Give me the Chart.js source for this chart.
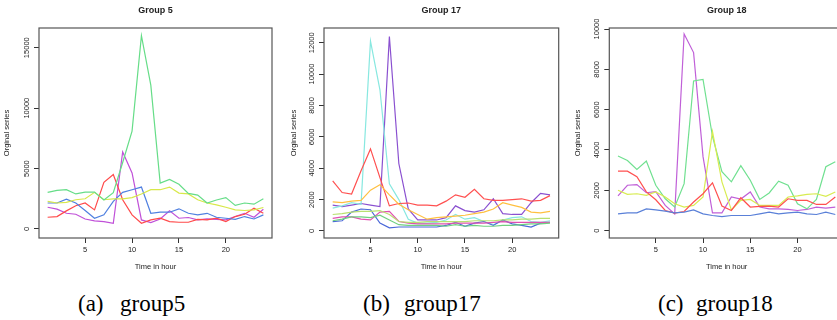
<!DOCTYPE html>
<html>
<head>
<meta charset="utf-8">
<script src="https://cdn.jsdelivr.net/npm/chart.js@4/dist/chart.umd.min.js"></script>
<style>
  html, body { margin: 0; padding: 0; background: #fff; }
  body { width: 837px; height: 320px; overflow: hidden; position: relative; }
  .panel { position: absolute; top: 0; height: 280px; }
  .cap { position: absolute; top: 291px; font-family: "Liberation Serif", "Times New Roman", serif;
         font-size: 23px; line-height: 26px; color: #000; white-space: pre; }
</style>
</head>
<body>
<div class="panel" style="left:0;width:280px"><canvas id="g5"></canvas></div>
<div class="panel" style="left:280px;width:280px"><canvas id="g17"></canvas></div>
<div class="panel" style="left:560px;width:290px"><canvas id="g18"></canvas></div>

<div class="cap" style="left:78px">(a)</div><div class="cap" style="left:120px">group5</div>
<div class="cap" style="left:363px">(b)</div><div class="cap" style="left:404px">group17</div>
<div class="cap" style="left:658px">(c)</div><div class="cap" style="left:696px">group18</div>

<script>
// hours 1..24
const hours = Array.from({ length: 24 }, (_, i) => i + 1);
const xTicks = [5, 10, 15, 20];

// ---- Group 5 ----
const g5Green  = [3030, 3200, 3250, 2900, 3050, 3050, 2400, 3000, 5500, 8100, 16000, 11900, 3800, 4100, 3700, 2950, 2800, 2150, 2400, 2600, 1950, 2150, 2050, 2500];
const g5Yellow = [2280, 2150, 2200, 2420, 2500, 3030, 2420, 2500, 2500, 2600, 2900, 3250, 3250, 3470, 2970, 2900, 2420, 2150, 2000, 1800, 1580, 1530, 1580, 1780];
const g5Blue   = [2150, 2150, 2470, 2150, 1530, 890, 1170, 2280, 3030, 3250, 3470, 1300, 1390, 1390, 1670, 1300, 1170, 1300, 970, 890, 800, 1030, 830, 1170];
const g5Red    = [970, 1030, 1500, 1920, 2150, 1580, 3860, 4500, 2420, 1170, 470, 750, 890, 610, 560, 560, 800, 750, 890, 610, 1030, 1220, 1720, 1300];
const g5Purple = [1800, 1640, 1300, 1220, 830, 670, 610, 470, 6370, 4640, 750, 530, 830, 1500, 890, 950, 750, 830, 800, 750, 1030, 1300, 970, 1640];
const g5YTicks = [0, 5000, 10000, 15000];

// ---- Group 17 ----
const g17Red    = [3200, 2450, 2350, 3840, 5230, 3400, 1600, 1750, 1780, 1650, 1650, 1600, 1900, 2300, 2150, 2650, 2050, 1950, 1950, 2000, 2050, 1900, 1950, 2250];
const g17Orange = [1850, 1800, 1900, 1950, 2600, 2950, 2300, 1700, 1350, 1050, 750, 850, 900, 950, 1000, 1100, 1200, 1400, 1800, 1650, 1500, 1200, 1150, 1250];
const g17Cyan   = [1450, 1600, 1800, 1700, 12100, 9000, 3000, 2000, 750, 500, 500, 550, 700, 1050, 750, 850, 600, 400, 700, 850, 900, 600, 550, 650];
const g17Violet = [1650, 1550, 1650, 1750, 1650, 1550, 12400, 4300, 1400, 700, 700, 700, 850, 1600, 1300, 1200, 1350, 2050, 1100, 1050, 1050, 1800, 2400, 2300];
const g17Blue   = [600, 650, 1200, 1400, 1350, 500, 200, 250, 250, 250, 250, 250, 350, 550, 300, 500, 600, 350, 700, 450, 350, 250, 500, 550];
const g17Pink   = [800, 900, 900, 750, 700, 1200, 1250, 600, 500, 450, 450, 450, 450, 500, 500, 500, 500, 550, 600, 550, 550, 550, 550, 550];
const g17Lime   = [1050, 1100, 1200, 1250, 1250, 1300, 1050, 600, 550, 550, 600, 600, 600, 600, 600, 650, 650, 650, 700, 700, 750, 750, 800, 800];
const g17Green  = [650, 750, 900, 900, 850, 1000, 700, 400, 350, 350, 350, 350, 300, 400, 300, 350, 300, 300, 350, 350, 400, 450, 450, 500];
const g17YTicks = [0, 2000, 4000, 6000, 8000, 10000, 12000];

// ---- Group 18 ----
const g18Green  = [3700, 3480, 3030, 3450, 2250, 1580, 1170, 2330, 7420, 7500, 4670, 2920, 2420, 3220, 2500, 1550, 1870, 2450, 2250, 1330, 1080, 1550, 3170, 3420];
const g18Yellow = [2000, 1800, 1830, 1750, 1920, 1670, 1330, 1170, 1250, 1670, 4920, 2420, 1030, 1500, 1550, 1250, 1250, 1250, 1670, 1720, 1800, 1830, 1700, 1920];
const g18Red    = [2950, 2950, 2670, 1920, 1530, 1000, 870, 950, 1420, 1830, 2370, 1220, 1000, 1630, 1170, 1200, 1220, 1170, 1580, 1500, 1500, 1300, 1300, 1670];
const g18Purple = [1720, 2250, 2280, 1880, 1930, 1250, 830, 9750, 8830, 3670, 880, 880, 1670, 1570, 1920, 1170, 1080, 1080, 1050, 1000, 1050, 1170, 1120, 1170];
const g18Blue   = [830, 880, 880, 1080, 1030, 970, 880, 920, 1030, 830, 750, 700, 750, 750, 750, 830, 920, 830, 880, 920, 830, 800, 920, 800];
const g18YTicks = [0, 2000, 4000, 6000, 8000, 10000];

const INK = '#333';

// frame box around the plot region, like R's box()
const boxPlugin = {
  id: 'box',
  afterDraw(chart) {
    const a = chart.chartArea, ctx = chart.ctx;
    ctx.save();
    ctx.strokeStyle = '#555';
    ctx.lineWidth = 1.2;
    ctx.strokeRect(a.left, a.top, a.right - a.left, a.bottom - a.top);
    ctx.restore();
  }
};

function line(data, color) {
  return { data: hours.map((h, i) => ({ x: h, y: data[i] })), borderColor: color,
           borderWidth: 1.2, pointRadius: 0, tension: 0, fill: false };
}

function makePanel(id, title, series, yTicks, yMin, yMax, o) {
  return new Chart(document.getElementById(id), {
    type: 'line',
    data: { datasets: series },
    options: {
      responsive: true,
      maintainAspectRatio: false,
      animation: false,
      events: [],
      layout: { padding: { left: 0, right: o.padRight, top: 0, bottom: 0 } },
      plugins: {
        legend: { display: false },
        tooltip: { enabled: false },
        title: {
          display: true, text: title, fullSize: false, color: '#222',
          font: { family: 'Liberation Sans, Arial', size: 9, weight: 'bold' },
          padding: { top: 5, bottom: 12.2 }
        }
      },
      scales: {
        x: {
          type: 'linear', min: 0.08, max: 24.92,
          afterBuildTicks: s => { s.ticks = xTicks.map(v => ({ value: v })); },
          afterFit: s => { s.height = 42; },
          grid: { drawOnChartArea: false, drawTicks: true, tickLength: 5, color: INK },
          border: { display: false },
          ticks: { color: '#222', padding: 2, maxRotation: 0, font: { family: 'Liberation Sans, Arial', size: 7.5 } },
          title: { display: true, text: 'Time in hour', color: '#222',
                   font: { family: 'Liberation Sans, Arial', size: 7.5 }, padding: { top: 0, bottom: 8.5 } }
        },
        y: {
          type: 'linear', min: yMin, max: yMax,
          afterBuildTicks: s => { s.ticks = yTicks.map(v => ({ value: v })); },
          afterFit: s => { s.width = o.yWidth; },
          grid: { drawOnChartArea: false, drawTicks: true, tickLength: 5, color: INK },
          border: { display: false },
          ticks: { color: '#222', padding: -3.3, minRotation: 90, maxRotation: 90, crossAlign: 'center',
                   font: { family: 'Liberation Sans, Arial', size: 7.5 }, callback: v => String(v) },
          title: { display: true, text: 'Orginal series', color: '#222',
                   font: { family: 'Liberation Sans, Arial', size: 7.5 }, padding: { top: o.yTitlePad, bottom: 0 } }
        }
      }
    },
    plugins: [boxPlugin]
  });
}

makePanel('g5', 'Group 5', [
  line(g5Green, '#66dd88'), line(g5Yellow, '#d8e84a'), line(g5Blue, '#5080e0'),
  line(g5Red, '#ff4a4a'), line(g5Purple, '#c050d8')
], g5YTicks, -745, 16630, { padRight: 8, yWidth: 39, yTitlePad: 2.5 });

makePanel('g17', 'Group 17', [
  line(g17Green, '#70d080'), line(g17Lime, '#b8e070'), line(g17Pink, '#e050b0'),
  line(g17Blue, '#4a68d8'), line(g17Orange, '#ffc040'), line(g17Red, '#ff5050'),
  line(g17Cyan, '#88e8e0'), line(g17Violet, '#8a50d0')
], g17YTicks, -450, 12940, { padRight: 1.3, yWidth: 44, yTitlePad: 9.5 });

makePanel('g18', 'Group 18', [
  line(g18Blue, '#5a80d8'), line(g18Red, '#ff5050'), line(g18Yellow, '#d8ec50'),
  line(g18Green, '#70e090'), line(g18Purple, '#c060d8')
], g18YTicks, -365, 10050, { padRight: 6, yWidth: 49.3, yTitlePad: 13.5 });
</script>
</body>
</html>
